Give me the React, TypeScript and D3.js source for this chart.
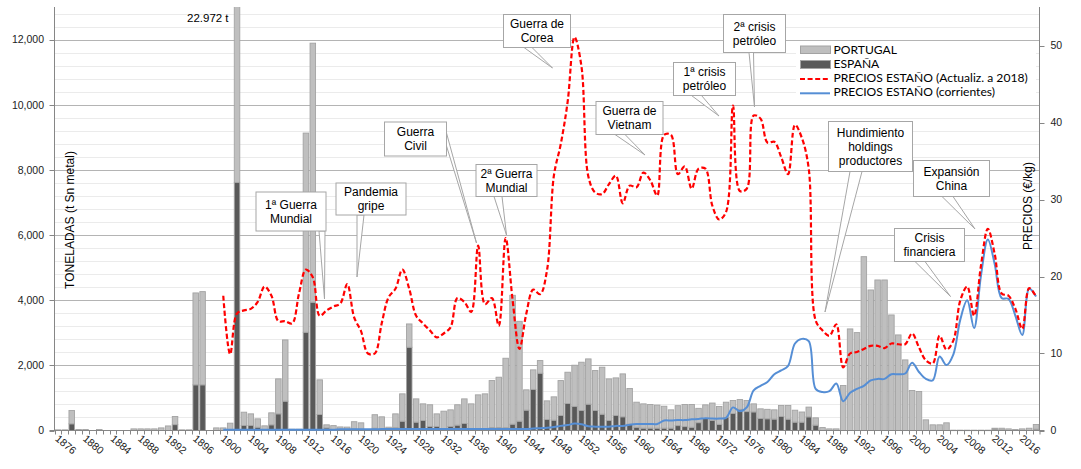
import React from 'react';
import * as d3 from 'd3';

const START_YEAR = 1876;
const END_YEAR = 2018;
const years: number[] = d3.range(START_YEAR, END_YEAR + 1);

// toneladas ESPAÑA (1876..2018)
const espana: number[] = [
  0, 0, 205, 0, 0, 0, 0, 0, 0, 0,
  0, 0, 0, 0, 0, 0, 0, 180, 0, 0,
  1401, 1401, 0, 0, 0, 30, 7616, 153, 153, 100,
  30, 174, 511, 900, 0, 0, 3015, 3935, 491, 80,
  0, 0, 0, 50, 40, 0, 70, 0, 0, 85,
  286, 2555, 256, 307, 125, 125, 20, 125, 165, 215,
  20, 20, 20, 90, 90, 85, 195, 286, 625, 1262,
  1758, 337, 317, 460, 828, 740, 613, 808, 613, 501,
  307, 460, 420, 194, 100, 72, 72, 72, 72, 72,
  150, 120, 100, 240, 368, 307, 190, 400, 520, 650,
  580, 570, 370, 360, 350, 429, 348, 256, 256, 419,
  164, 0, 0, 0, 0, 0, 0, 0, 0, 0,
  0, 0, 0, 0, 0, 0, 0, 0, 0, 0,
  0, 0, 0, 0, 0, 0, 40, 20, 0, 0,
  0, 0, 40,
];

// toneladas PORTUGAL (1876..2018), apiladas sobre ESPAÑA
const portugal: number[] = [
  20, 20, 408, 30, 30, 0, 30, 0, 0, 0,
  0, 50, 50, 50, 50, 80, 140, 250, 20, 20,
  2822, 2862, 0, 80, 80, 195, 15356, 409, 358, 258,
  113, 368, 1074, 1881, 40, 40, 6115, 7955, 1064, 94,
  150, 110, 105, 220, 195, 30, 415, 420, 102, 426,
  839, 716, 715, 511, 665, 386, 573, 509, 625, 756,
  798, 1074, 1105, 1443, 1546, 2133, 3955, 3066, 623, 599,
  389, 573, 716, 1073, 961, 1264, 1483, 1390, 1227, 1442,
  1277, 1155, 1318, 1096, 769, 746, 725, 708, 673, 562,
  612, 677, 697, 440, 419, 536, 546, 469, 400, 300,
  340, 248, 295, 290, 284, 338, 419, 367, 312, 299,
  224, 90, 50, 50, 1380, 3118, 3005, 5336, 4314, 4621,
  4621, 3547, 2934, 2167, 1227, 1196, 327, 174, 174, 236,
  10, 10, 10, 10, 10, 10, 30, 50, 50, 30,
  50, 70, 144,
];

const N = null;
// €/kg actualizados a 2018
const preciosActualizados: (number | null)[] = [
  N, N, N, N, N, N, N, N, N, N,
  N, N, N, N, N, N, N, N, N, N,
  N, N, N, N, 17.5, 9.9, 15.2, 15.6, 15.8, 16.7,
  18.7, 17.5, 14.2, 14.2, 13.9, 17.8, 20.9, 19.9, 14.9, 15.6,
  16.1, 16.5, 19.0, 14.7, 12.9, 10.0, 10.0, 13.9, 17.3, 18.4,
  20.9, 18.4, 14.9, 13.9, 13.0, 12.1, 12.6, 13.4, 17.2, 16.7,
  15.4, 24.0, 16.4, 17.2, 13.6, 25.0, 17.0, 10.6, 15.2, 18.3,
  17.7, 20.8, 33.1, 37.2, 42.7, 51.1, 47.3, 33.0, 30.9, 30.7,
  32.0, 33.1, 29.5, 31.8, 31.6, 33.5, 32.5, 30.5, 38.4, 38.4,
  33.3, 34.3, 31.4, 34.0, 34.0, 29.2, 27.4, 28.4, 42.2, 31.1,
  31.4, 40.9, 40.5, 37.4, 37.5, 35.5, 33.3, 39.7, 38.0, 34.0,
  14.3, 13.0, 12.3, 13.8, 8.2, 10.0, 10.2, 10.6, 11.0, 11.0,
  10.7, 11.3, 11.2, 11.2, 12.6, 10.8, 9.1, 8.7, 12.3, 10.5,
  11.7, 16.9, 18.7, 14.9, 21.4, 26.2, 22.9, 17.8, 17.5, 15.8,
  13.2, 18.5, 17.4,
];

// €/kg corrientes
const preciosCorrientes: (number | null)[] = [
  N, N, N, N, N, N, N, N, N, N,
  N, N, N, N, N, N, N, N, N, N,
  N, N, N, N, 0.1, 0.1, 0.1, 0.1, 0.1, 0.1,
  0.1, 0.1, 0.1, 0.1, 0.1, 0.1, 0.1, 0.1, 0.1, 0.1,
  0.1, 0.15, 0.15, 0.15, 0.15, 0.15, 0.15, 0.2, 0.2, 0.2,
  0.2, 0.2, 0.2, 0.2, 0.2, 0.2, 0.2, 0.2, 0.2, 0.2,
  0.2, 0.2, 0.2, 0.2, 0.2, 0.2, 0.2, 0.2, 0.2, 0.25,
  0.3, 0.35, 0.45, 0.6, 0.7, 0.9, 0.8, 0.55, 0.5, 0.5,
  0.5, 0.6, 0.6, 0.75, 0.85, 0.85, 0.85, 0.85, 1.3, 1.3,
  1.35, 1.35, 1.45, 1.5, 1.6, 1.55, 1.55, 1.65, 3.0, 2.5,
  3.0, 5.2, 5.8, 6.3, 7.3, 7.8, 8.4, 11.3, 11.9, 11.6,
  5.4, 5.0, 5.1, 6.1, 3.8, 4.9, 5.4, 5.8, 6.5, 6.7,
  6.7, 7.3, 7.3, 7.4, 8.8, 7.6, 6.7, 6.5, 9.6, 8.5,
  9.9, 14.4, 16.9, 13.3, 20.1, 24.8, 21.6, 17.2, 17.1, 14.9,
  12.4, 18.4, 17.4,
];

const tickYears: number[] = [
  1876, 1880, 1884, 1888, 1892, 1896, 1900, 1904, 1908, 1912, 1916, 1920,
  1924, 1928, 1932, 1936, 1940, 1944, 1948, 1952, 1956, 1960, 1964, 1968,
  1972, 1976, 1980, 1984, 1988, 1992, 1996, 2000, 2004, 2008, 2012, 2016,
];
const leftTicks: number[] = [0, 2000, 4000, 6000, 8000, 10000, 12000];
const rightTicks: number[] = [0, 10, 20, 30, 40, 50];
const legendLabels: string[] = ['PORTUGAL', 'ESPAÑA', 'PRECIOS ESTAÑO (Actualiz. a 2018)', 'PRECIOS ESTAÑO (corrientes)'];

type Callout = {
  lines: string[];
  box: [number, number, number, number];
  base: [[number, number], [number, number]];
  tip: [number, number];
};

const callouts: Callout[] = [
  { lines: ['1ª Guerra', 'Mundial'], box: [256, 192, 70, 39], base: [[319, 231], [325, 231]], tip: [324.5, 299] },
  { lines: ['Pandemia', 'gripe'], box: [336, 183, 70, 32], base: [[357, 215], [364, 215]], tip: [357, 277] },
  { lines: ['Guerra', 'Civil'], box: [384.5, 122, 62, 34], base: [[446.5, 133], [446.5, 146]], tip: [476.5, 243] },
  { lines: ['2ª Guerra', 'Mundial'], box: [476, 164.5, 61, 32], base: [[494, 196.5], [502, 196.5]], tip: [506.5, 235] },
  { lines: ['Guerra de', 'Corea'], box: [503.5, 14.5, 67, 33], base: [[524, 47.5], [532, 47.5]], tip: [552.5, 68] },
  { lines: ['Guerra de', 'Vietnam'], box: [596, 101.5, 67, 33], base: [[615, 134.5], [625, 134.5]], tip: [645, 155] },
  { lines: ['1ª crisis', 'petróleo'], box: [673.5, 62.5, 62, 33], base: [[691.5, 95.5], [701.5, 95.5]], tip: [719, 116] },
  { lines: ['2ª crisis', 'petróleo'], box: [723.5, 14.5, 62, 38], base: [[749, 52.5], [753.5, 52.5]], tip: [754.5, 107] },
  { lines: ['Hundimiento', 'holdings', 'productores'], box: [828.5, 121.5, 84, 50], base: [[850, 171.5], [862, 171.5]], tip: [825, 312] },
  { lines: ['Expansión', 'China'], box: [913.5, 160.5, 76, 36], base: [[942, 196.5], [953, 196.5]], tip: [975, 229] },
  { lines: ['Crisis', 'financiera'], box: [894.5, 228.5, 70, 33], base: [[915, 261.5], [925, 261.5]], tip: [950.5, 296.5] },
];

const W = 1081;
const H = 469;
const PL = 54.5;
const PR = 1039.5;
const PT = 7;
const PB = 430.5;

const ARIAL = '"Liberation Sans", Arial, sans-serif';
const LEG = 'Lato, "Liberation Sans", sans-serif';

export default function App() {
  const xb = d3.scaleBand<number>().domain(years).range([PL, PR]).padding(0);
  const step = xb.step();
  const bw = step * 0.8;
  const yL = d3.scaleLinear().domain([0, 13000]).range([PB, PT]);
  const yR = d3.scaleLinear().domain([0, 55]).range([PB, PT]);
  const cx = (y: number) => (xb(y) as number) + step / 2;

  const minorTicks = d3.range(400, 13000, 400).filter((v) => v % 2000 !== 0);

  const rows = years.map((y, i) => ({ year: y, espana: espana[i], portugal: portugal[i] }));
  const stack = d3.stack<any>().keys(['espana', 'portugal'])(rows);

  const mkLine = (arr: (number | null)[]) =>
    d3
      .line<number>()
      .defined((i) => arr[i] != null)
      .x((i) => cx(years[i]))
      .y((i) => yR(arr[i] as number))
      .curve(d3.curveCatmullRom.alpha(0.5))(d3.range(years.length)) || '';

  const redPath = mkLine(preciosActualizados);
  const bluePath = mkLine(preciosCorrientes);

  const fills: Record<string, string> = { espana: '#595959', portugal: '#BFBFBF' };

  return (
    <svg width={W} height={H} style={{ position: 'absolute', left: 0, top: 0, background: '#fff' }}>
      <defs>
        <clipPath id="plot">
          <rect x={PL} y={PT} width={PR - PL} height={PB - PT + 1} />
        </clipPath>
      </defs>
      <rect x={0} y={0} width={W} height={H} fill="#fff" />
      {minorTicks.map((v) => (
        <line key={'m' + v} x1={PL} x2={PR} y1={Math.round(yL(v)) + 0.5} y2={Math.round(yL(v)) + 0.5} stroke="#EBEBEB" strokeWidth={1} />
      ))}
      {leftTicks.filter((v) => v > 0).map((v) => (
        <line key={'g' + v} x1={PL} x2={PR} y1={Math.round(yL(v)) + 0.5} y2={Math.round(yL(v)) + 0.5} stroke="#B4B4B4" strokeWidth={1} />
      ))}
      <g clipPath="url(#plot)">
        {stack.map((s) =>
          s.map((d, i) => {
            const v0 = d[0];
            const v1 = d[1];
            if (v1 - v0 <= 0) return null;
            const yTop = yL(v1);
            const yBot = yL(v0);
            return (
              <rect
                key={s.key + i}
                x={(xb(years[i]) as number) + (step - bw) / 2}
                y={yTop}
                width={bw}
                height={Math.max(0.5, yBot - yTop)}
                fill={fills[s.key]}
                stroke="#A3A3A3"
                strokeWidth={0.9}
              />
            );
          })
        )}
      </g>
      <line x1={PL} x2={PL} y1={PT} y2={PB} stroke="#868686" />
      <line x1={PR} x2={PR} y1={PT} y2={PB} stroke="#868686" />
      <line x1={PL - 5} x2={PR + 5} y1={PB} y2={PB} stroke="#868686" />
      {years.map((y) => (
        <line key={'xt' + y} x1={Math.round(xb(y) as number) + 0.5} x2={Math.round(xb(y) as number) + 0.5} y1={PB} y2={PB + 4} stroke="#868686" />
      ))}
      <line x1={PR + 0.5} x2={PR + 0.5} y1={PB} y2={PB + 4} stroke="#868686" />
      {leftTicks.map((v) => (
        <g key={'lt' + v}>
          <line x1={PL - 5} x2={PL} y1={Math.round(yL(v)) + 0.5} y2={Math.round(yL(v)) + 0.5} stroke="#868686" />
          <text x={44} y={yL(v)} dy="0.36em" textAnchor="end" fontFamily={ARIAL} fontSize={10.5} fill="#1c1c1c">
            {d3.format(',')(v)}
          </text>
        </g>
      ))}
      {rightTicks.map((v) => (
        <g key={'rt' + v}>
          <line x1={PR} x2={PR + 5} y1={Math.round(yR(v)) + 0.5} y2={Math.round(yR(v)) + 0.5} stroke="#868686" />
          <text x={1050.5} y={yR(v)} dy="0.36em" textAnchor="start" fontFamily={ARIAL} fontSize={10.5} fill="#1c1c1c">
            {v}
          </text>
        </g>
      ))}
      {tickYears.map((y) => (
        <text
          key={'xl' + y}
          transform={`translate(${cx(y) + 1.5},${434}) rotate(40)`}
          dy="0.72em"
          textAnchor="start"
          fontFamily={ARIAL}
          fontSize={10.5}
          fill="#1c1c1c"
        >
          {y}
        </text>
      ))}
      <text transform={`translate(74,220) rotate(-90)`} textAnchor="middle" fontFamily={ARIAL} fontSize={12} fill="#000">
        TONELADAS (t Sn metal)
      </text>
      <text transform={`translate(1031.5,206) rotate(-90)`} textAnchor="middle" fontFamily={ARIAL} fontSize={12} fill="#000">
        PRECIOS (€/kg)
      </text>
      <g clipPath="url(#plot)">
        <path d={bluePath} fill="none" stroke="#558ED5" strokeWidth={2} strokeLinejoin="round" />
        <path d={redPath} fill="none" stroke="#FF0000" strokeWidth={2.2} strokeDasharray="5 2.6" />
      </g>
      <text x={187} y={22} fontFamily={ARIAL} fontSize={11.5} fill="#000">
        22.972 t
      </text>
      {callouts.map((c, k) => {
        const [bx, by, bwid, bh] = c.box;
        const n = c.lines.length;
        const mid = by + bh / 2;
        return (
          <g key={'c' + k}>
            <polygon
              points={`${c.base[0][0]},${c.base[0][1]} ${c.tip[0]},${c.tip[1]} ${c.base[1][0]},${c.base[1][1]}`}
              fill="#fff"
              stroke="#A6A6A6"
              strokeWidth={1}
            />
            <rect x={bx} y={by} width={bwid} height={bh} fill="#fff" stroke="#A6A6A6" strokeWidth={1} />
            {c.lines.map((l, j) => (
              <text
                key={j}
                x={bx + bwid / 2}
                y={mid + (j - (n - 1) / 2) * 14}
                dy="0.36em"
                textAnchor="middle"
                fontFamily={ARIAL}
                fontSize={12}
                fill="#000"
              >
                {l}
              </text>
            ))}
          </g>
        );
      })}
      <g>
        <rect x={796} y={42} width={240} height={58} fill="#fff" />
        <rect x={800.5} y={46} width={30} height={7.5} fill="#BFBFBF" stroke="#A3A3A3" />
        <rect x={800.5} y={60.5} width={30} height={8} fill="#595959" stroke="#A3A3A3" />
        <line x1={800} x2={830} y1={79} y2={79} stroke="#FF0000" strokeWidth={2.2} strokeDasharray="5 2.6" />
        <line x1={800} x2={830} y1={93.3} y2={93.3} stroke="#558ED5" strokeWidth={2} />
        {legendLabels.map((t, j) => (
          <text key={t} x={833.5} y={54.3 + j * 13.9} fontFamily={LEG} fontSize={12.1} fill="#000">
            {t}
          </text>
        ))}
      </g>
    </svg>
  );
}
